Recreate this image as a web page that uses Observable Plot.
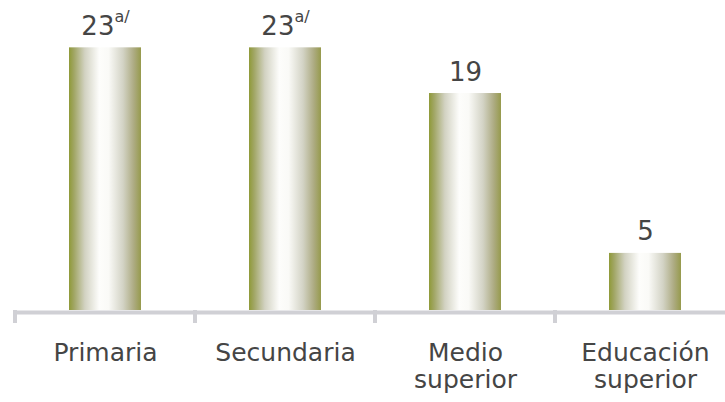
<!DOCTYPE html>
<html>
<head>
<meta charset="utf-8">
<script src="https://cdn.jsdelivr.net/npm/d3@7"></script>
<script src="https://cdn.jsdelivr.net/npm/@observablehq/plot@0.6"></script>
<style>
  html, body { margin: 0; padding: 0; background: #ffffff; }
  #chart svg { display: block; overflow: visible; }
</style>
</head>
<body>
<div id="chart"></div>
<script>
const categories = ["Primaria", "Secundaria", "Medio superior", "Educación superior"];
const tickLabels = ["Primaria", "Secundaria", "Medio\nsuperior", "Educación\nsuperior"];
const values = [23, 23, 19, 5];
const notes = ["a/", "a/", "", ""];

const data = categories.map((c, i) => ({cat: c, value: values[i], note: notes[i]}));
const labelOf = new Map(categories.map((c, i) => [c, tickLabels[i]]));

function edgeTicks(index, scales, vals, dims) {
  const x = scales.x, y = scales.y;
  const step = x.step(), bw = x.bandwidth();
  const gap = (step - bw) / 2;
  const dom = x.domain();
  const edges = dom.map(d => x(d) - gap).concat([x(dom[dom.length - 1]) + bw + gap]);
  const g = d3.create("svg:g");
  const y0 = y(0);
  g.selectAll("line").data(edges).join("line")
    .attr("x1", d => d).attr("x2", d => d)
    .attr("y1", y0).attr("y2", y0 + 13)
    .attr("stroke", "#d0d0d5").attr("stroke-width", 4);
  return g.node();
}

const chart = Plot.plot({
  width: 725,
  height: 402,
  marginLeft: 14.5,
  marginRight: -9.5,
  marginTop: 24.5,
  marginBottom: 92,
  style: {fontFamily: "DejaVu Sans", color: "#404040", background: "#ffffff"},
  x: {domain: categories, paddingInner: 0.6, paddingOuter: 0.3, label: null},
  y: {domain: [0, 25], axis: null},
  marks: [
    Plot.barY(data, {x: "cat", y: "value", fill: "url(#barGrad)"}),
    Plot.ruleY([0], {stroke: "#d0d0d5", strokeWidth: 4, dy: 2}),
    edgeTicks,
    Plot.axisX({
      tickSize: 0,
      tickPadding: 31,
      fontSize: 25,
      lineHeight: 1.08,
      fill: "#454545",
      tickFormat: d => labelOf.get(d)
    }),
    Plot.text(data, {
      x: "cat", y: "value", text: d => String(d.value),
      lineAnchor: "bottom", dy: -13, fontSize: 26, fill: "#454545",
      render(index, scales, vals, dims, context, next) {
        const g = next(index, scales, vals, dims, context);
        d3.select(g).selectAll("text").each(function(_, j) {
          const i = index[j];
          const n = data[i].note;
          if (n) {
            d3.select(this).append("tspan")
              .attr("font-size", 16)
              .attr("dy", -13)
              .text(n);
          }
        });
        return g;
      }
    })
  ]
});

const defs = d3.select(chart).insert("defs", ":first-child");
const grad = defs.append("linearGradient").attr("id", "barGrad")
  .attr("x1", "0%").attr("x2", "100%").attr("y1", "0%").attr("y2", "0%");
[
  [0, "#8f9a38"], [0.07, "#a1a665"], [0.22, "#d2d2c2"], [0.42, "#fdfdfb"],
  [0.55, "#fafaf7"], [0.75, "#d3d3c5"], [0.9, "#adab82"], [1, "#969a4c"]
].forEach(([o, c]) => grad.append("stop").attr("offset", o).attr("stop-color", c));

document.getElementById("chart").appendChild(chart);
</script>
</body>
</html>
